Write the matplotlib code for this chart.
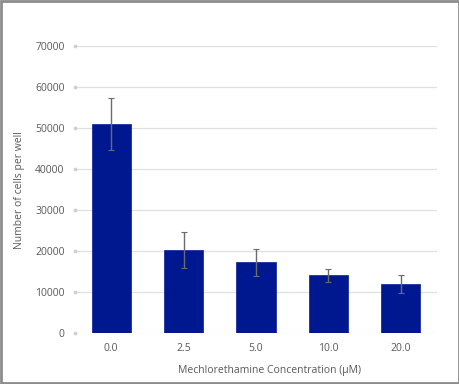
import matplotlib
matplotlib.use("Agg")
import matplotlib.pyplot as plt
from matplotlib.patches import Rectangle
from matplotlib.transforms import blended_transform_factory

categories = ["0.0", "2.5", "5.0", "10.0", "20.0"]
values = [51000, 20200, 17200, 14100, 11950]
errors = [6300, 4400, 3200, 1550, 2100]
yticks = [0, 10000, 20000, 30000, 40000, 50000, 60000, 70000]

plt.rcParams['font.family'] = ['Open Sans', 'DejaVu Sans']
text_color = '#595959'

fig = plt.figure(figsize=(4.6, 3.84), dpi=100)
ax = fig.add_axes([75/460, 1-333/384, (437-75)/460, (333-46)/384])

x = list(range(len(categories)))
ax.bar(x, values, width=0.54, color='#00188F', edgecolor='#1a2fa0', linewidth=0.6, zorder=3)
ax.errorbar(x, values, yerr=errors, fmt='none', ecolor='#6b6b6b', elinewidth=1.0,
            capsize=2, capthick=0.8, zorder=4)

ax.set_xlim(-0.5, len(categories) - 0.5)
ax.set_ylim(0, 70000)
ax.set_yticks(yticks)
ax.set_yticklabels([str(v) for v in yticks])
ax.set_xticks(x)
ax.set_xticklabels(categories)
ax.yaxis.grid(True, color='#e0e0e0', linewidth=0.9, zorder=0)
ax.set_axisbelow(True)
for s in ax.spines.values():
    s.set_visible(False)
ax.tick_params(axis='both', length=0, labelsize=7.5, colors=text_color)
ax.tick_params(axis='y', pad=7.5)
ax.tick_params(axis='x', pad=7)

trans = blended_transform_factory(ax.transAxes, ax.transData)
ax.scatter([0]*len(yticks), yticks, s=3, color='#d0d0d0', transform=trans, clip_on=False, zorder=2)

fig.text(270/460, 1-371/384, "Mechlorethamine Concentration (\u03bcM)", ha='center', va='center',
         fontsize=7.5, color=text_color)
fig.text(20/460, 1-190/384, "Number of cells per well", ha='center', va='center',
         rotation=90, fontsize=7.5, color=text_color)

fig.patches.append(Rectangle((0.002, 0.003), 0.995, 0.994, transform=fig.transFigure,
                             fill=False, edgecolor='#8c8c8c', linewidth=2.0))

fig.savefig("out.png", dpi=100)
